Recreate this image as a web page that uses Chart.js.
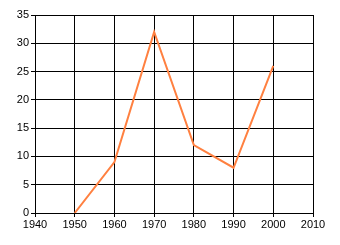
<!DOCTYPE html>
<html>
<head>
<meta charset="utf-8">
<script src="https://cdn.jsdelivr.net/npm/chart.js@4"></script>
<style>
  html, body { margin: 0; padding: 0; background: #fff; }
  #wrap { width: 340px; height: 245px; }
</style>
</head>
<body>
<div id="wrap"><canvas id="chart" width="340" height="245"></canvas></div>
<script>
// chart data
const years = [1950, 1960, 1970, 1980, 1990, 2000];
const values = [0, 9, 32, 12, 8, 26];

const xMin = 1940, xMax = 2010, xStep = 10;
const yMin = 0, yMax = 35, yStep = 5;

const points = years.map((x, i) => ({ x: x, y: values[i] }));

const ctx = document.getElementById('chart').getContext('2d');
new Chart(ctx, {
  type: 'scatter',
  data: {
    datasets: [{
      data: points,
      showLine: true,
      borderColor: '#ff8040',
      borderWidth: 2,
      pointRadius: 0,
      fill: false,
      tension: 0
    }]
  },
  options: {
    responsive: false,
    animation: false,
    layout: { padding: { top: 15, right: 27, left: 0, bottom: 0 } },
    plugins: { legend: { display: false }, tooltip: { enabled: false } },
    scales: {
      x: {
        type: 'linear',
        min: xMin,
        max: xMax,
        ticks: {
          stepSize: xStep,
          color: '#000',
          padding: 1,
          maxRotation: 0,
          font: { family: 'Liberation Sans', size: 11 },
          callback: v => String(v)
        },
        grid: { color: '#000', lineWidth: 1, tickLength: 4 },
        border: { color: '#000', width: 1 },
        afterFit: s => { s.height = 32; }
      },
      y: {
        min: yMin,
        max: yMax,
        ticks: {
          stepSize: yStep,
          color: '#000',
          padding: 2,
          font: { family: 'Liberation Sans', size: 11 }
        },
        grid: { color: '#000', lineWidth: 1, tickLength: 4 },
        border: { color: '#000', width: 1 },
        afterFit: s => { s.width = 35; }
      }
    }
  }
});
</script>
</body>
</html>
